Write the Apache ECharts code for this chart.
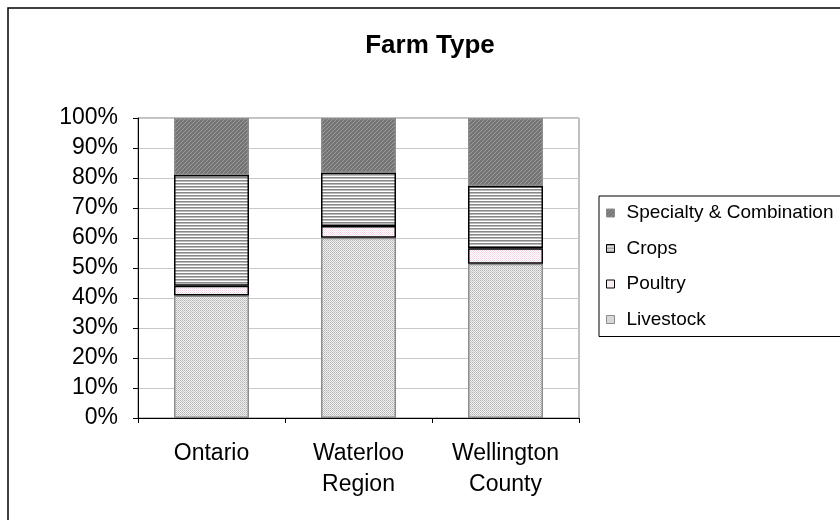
<!DOCTYPE html>
<html>
<head>
<meta charset="utf-8">
<title>Farm Type</title>
<script src="https://cdn.jsdelivr.net/npm/echarts@6/dist/echarts.min.js"></script>
<style>
  html, body { margin: 0; padding: 0; background: #fff; }
  #chart { width: 840px; height: 520px; }
</style>
</head>
<body>
<div id="chart"></div>
<script>
// Share of farms by type (%), stacked bottom to top
const categories = ['Ontario', 'Waterloo\nRegion', 'Wellington\nCounty'];
const livestock = [40.8, 60.1, 51.4];
const poultry = [3.3, 3.9, 5.2];
const crops = [36.9, 17.8, 20.7];
const specialty = [19.0, 18.2, 22.7];
const legendOrder = ['Specialty & Combination', 'Crops', 'Poultry', 'Livestock'];

const FONT = '"Liberation Sans", Arial, sans-serif';

// Small tiled canvases used as hatch fills
function makePattern(size, draw) {
  const c = document.createElement('canvas');
  c.width = size; c.height = size;
  const ctx = c.getContext('2d');
  draw(ctx);
  return { image: c, repeat: 'repeat' };
}
function px(ctx, x, y, col) { ctx.fillStyle = col; ctx.fillRect(x, y, 1, 1); }

const livestockFill = makePattern(2, ctx => {
  ctx.fillStyle = '#f2f2f2'; ctx.fillRect(0, 0, 2, 2);
  px(ctx, 0, 0, '#b0b0b0'); px(ctx, 1, 1, '#c8c8c8');
});
const poultryFill = makePattern(2, ctx => {
  ctx.fillStyle = '#ffffff'; ctx.fillRect(0, 0, 2, 2);
  px(ctx, 0, 0, '#f2d2e2'); px(ctx, 1, 1, '#eee6ea');
});
const cropsFill = makePattern(3, ctx => {
  ctx.fillStyle = '#ffffff'; ctx.fillRect(0, 0, 3, 3);
  ctx.fillStyle = '#888888'; ctx.fillRect(0, 0, 3, 1);
  ctx.fillStyle = '#bababa'; ctx.fillRect(0, 1, 3, 1);
});
const specialtyFill = makePattern(4, ctx => {
  ctx.fillStyle = '#747474'; ctx.fillRect(0, 0, 4, 4);
  for (let i = 0; i < 4; i++) px(ctx, i, 3 - i, '#9c9c9c');
});

function barSeries(name, data, fill, border) {
  return {
    name: name,
    type: 'bar',
    stack: 'farm',
    data: data,
    barWidth: 75,
    itemStyle: { color: fill, borderColor: border, borderWidth: 1.5 },
    emphasis: { disabled: true }
  };
}

const chart = echarts.init(document.getElementById('chart'), null, { renderer: 'canvas' });

chart.setOption({
  animation: false,
  backgroundColor: '#ffffff',
  textStyle: { fontFamily: FONT },
  graphic: [
    {
      type: 'rect',
      z: -10,
      shape: { x: 8, y: 8, width: 860, height: 540 },
      style: { fill: 'none', stroke: '#000', lineWidth: 1.5 }
    },
    {
      type: 'text',
      x: 430,
      y: 33,
      style: {
        text: 'Farm Type',
        textAlign: 'center',
        textVerticalAlign: 'top',
        fill: '#000',
        font: 'bold 26px ' + FONT
      }
    }
  ],
  legend: {
    data: legendOrder,
    orient: 'vertical',
    left: 599,
    top: 196,
    padding: [7, 40, 7, 7],
    icon: 'rect',
    itemWidth: 8,
    itemHeight: 8,
    itemGap: 15.5,
    itemStyle: { borderWidth: 1 },
    selectedMode: false,
    borderColor: '#000',
    borderWidth: 1,
    textStyle: { fontSize: 19, lineHeight: 20, color: '#000', fontFamily: FONT, padding: [0, 0, 0, 7] }
  },
  grid: {
    left: 138,
    right: 261,
    top: 118,
    bottom: 102,
    show: true,
    borderColor: '#808080',
    borderWidth: 1,
    containLabel: false
  },
  xAxis: {
    type: 'category',
    data: categories,
    axisLine: { lineStyle: { color: '#000', width: 1 } },
    axisTick: { show: true, length: 5, lineStyle: { color: '#000' } },
    axisLabel: { color: '#000', fontSize: 23, lineHeight: 31, margin: 20, fontFamily: FONT, align: 'center' }
  },
  yAxis: {
    type: 'value',
    min: 0,
    max: 100,
    interval: 10,
    axisLine: { show: true, lineStyle: { color: '#000', width: 1 } },
    axisTick: { show: true, length: 5, lineStyle: { color: '#000' } },
    axisLabel: { color: '#000', fontSize: 23, margin: 20, formatter: '{value}%', fontFamily: FONT },
    splitLine: { lineStyle: { color: '#c8c8c8', width: 1 } }
  },
  series: [
    barSeries('Livestock', livestock, livestockFill, '#8c8c8c'),
    barSeries('Poultry', poultry, poultryFill, '#000'),
    barSeries('Crops', crops, cropsFill, '#000'),
    barSeries('Specialty & Combination', specialty, specialtyFill, '#8c8c8c')
  ]
});
</script>
</body>
</html>
